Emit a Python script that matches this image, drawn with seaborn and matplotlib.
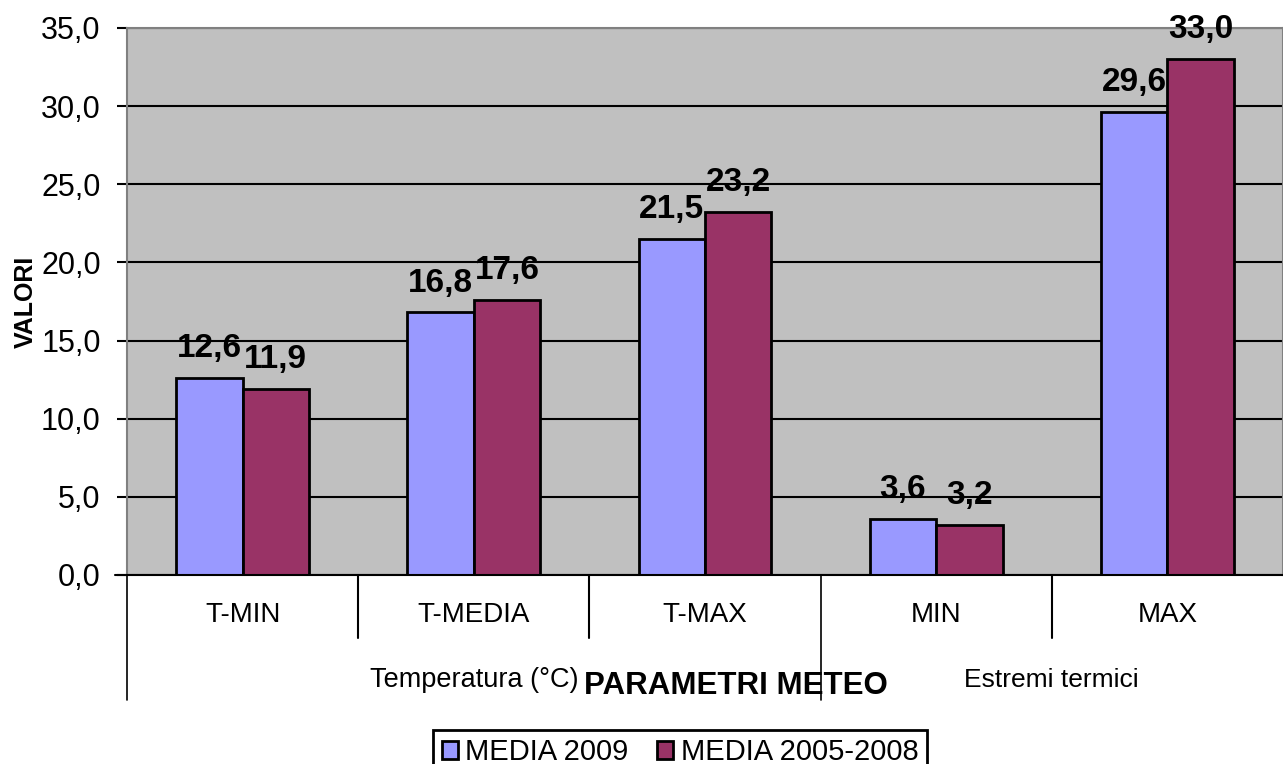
import pandas as pd
import matplotlib
matplotlib.use("Agg")
import matplotlib.pyplot as plt
import seaborn as sns

categories = ["T-MIN", "T-MEDIA", "T-MAX", "MIN", "MAX"]
media_2009 = [12.6, 16.8, 21.5, 3.6, 29.6]
media_2005_2008 = [11.9, 17.6, 23.2, 3.2, 33.0]
series_names = ["MEDIA 2009", "MEDIA 2005-2008"]
groups = ["Temperatura (°C)", "Estremi termici"]
yticks = [0, 5, 10, 15, 20, 25, 30, 35]

df = pd.DataFrame({
    "parametro": categories * 2,
    "valore": media_2009 + media_2005_2008,
    "serie": [series_names[0]] * len(categories) + [series_names[1]] * len(categories),
})

sns.set_style("white")
plt.rcParams["font.family"] = ["Liberation Sans", "DejaVu Sans"]
plt.rcParams["text.color"] = "black"
plt.rcParams["axes.labelcolor"] = "black"
plt.rcParams["ytick.color"] = "black"
plt.rcParams["xtick.color"] = "black"

fig = plt.figure(figsize=(12.83, 7.64), dpi=100)
ax = fig.add_axes([0.099, 0.2474, 0.901, 0.716])
ax.set_facecolor("#C0C0C0")

sns.barplot(data=df, x="parametro", y="valore", hue="serie", order=categories,
            hue_order=series_names, palette=["#9999FF", "#993366"],
            width=0.575, edgecolor="black", linewidth=2, saturation=1, ax=ax)

for c in ax.containers:
    ax.bar_label(c, fmt=lambda v: f"{v:.1f}".replace(".", ","), padding=10,
                 fontsize=24, fontweight="bold", color="black")

ax.set_xlim(-0.5, len(categories) - 0.5)
ax.set_ylim(0, 35)
ax.set_yticks(yticks)
ax.set_yticklabels([f"{t:.1f}".replace(".", ",") for t in yticks], fontsize=22)
ax.yaxis.grid(True, color="black", linewidth=1.5)
ax.set_axisbelow(True)
ax.tick_params(axis="y", left=True, length=7, width=1.5, color="black", pad=12)
ax.tick_params(axis="x", bottom=False, labelbottom=False)

for side in ["top", "right", "left"]:
    ax.spines[side].set_color("#808080")
    ax.spines[side].set_linewidth(1.5)
ax.spines["bottom"].set_color("black")
ax.spines["bottom"].set_linewidth(1.5)

ax.set_xlabel("")
ax.set_ylabel("VALORI", fontsize=18, fontweight="bold", labelpad=2)

# etichette categorie e gruppi sotto l'asse
xt = ax.get_xaxis_transform()
for i, cat in enumerate(categories):
    ax.text(i, -0.073, cat, transform=xt, ha="center", va="center", fontsize=20)
for x in [0.5, 1.5, 3.5]:
    ax.plot([x, x], [0, -0.115], transform=xt, color="black", linewidth=1.5, clip_on=False)
for x in [-0.5, 2.5]:
    ax.plot([x, x], [0, -0.229], transform=xt, color="black", linewidth=1.2, clip_on=False)
ax.plot([-0.55, -0.5], [0, 0], transform=xt, color="black", linewidth=1.5, clip_on=False)
ax.text(1.0, -0.192, groups[0], transform=xt, ha="center", va="center", fontsize=19.5)
ax.text(3.5, -0.192, groups[1], transform=xt, ha="center", va="center", fontsize=19)
ax.text(2.135, -0.203, "PARAMETRI METEO", transform=xt, ha="center", va="center",
        fontsize=22.5, fontweight="bold")

leg = ax.legend(loc="upper center", bbox_to_anchor=(0.530, 0.045), bbox_transform=fig.transFigure,
                ncol=2, fontsize=21, frameon=True, fancybox=False, framealpha=1,
                handlelength=0.55, handleheight=0.55, handletextpad=0.25,
                columnspacing=1.0, borderpad=0.3, borderaxespad=0)
leg.get_frame().set_edgecolor("black")
leg.get_frame().set_linewidth(2)
leg.set_title(None)

fig.savefig("out.png", dpi=100)
